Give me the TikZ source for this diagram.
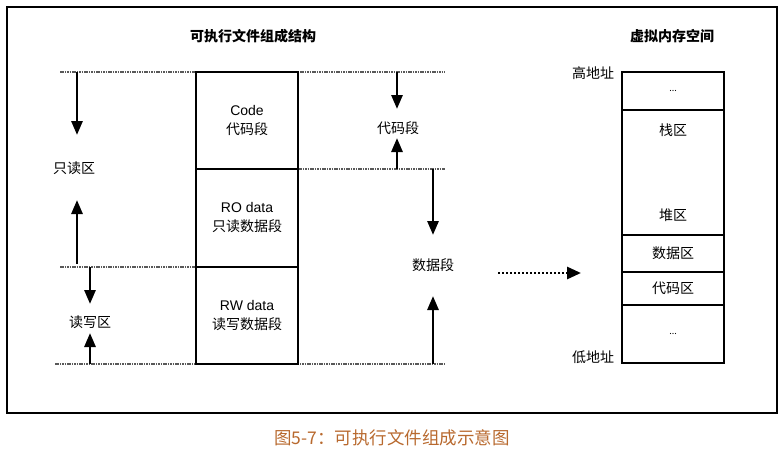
\documentclass[tikz,border=0pt]{standalone}
\usepackage{fontspec}
\setmainfont{Noto Sans CJK SC}
\newfontfamily\latinfont{Liberation Sans}
\usetikzlibrary{arrows.meta}
\definecolor{captioncol}{HTML}{B8692E}
\tikzset{
  cell/.style={draw, line width=1.6pt, minimum width=102pt, inner sep=0pt, align=center, font=\fontsize{14}{19}\selectfont},
  lbl/.style={inner sep=0pt, font=\fontsize{14}{16}\selectfont},
  ttl/.style={inner sep=0pt, font=\fontsize{14}{16}\selectfont\bfseries},
  guide/.style={line width=1.6pt, gray!70!black, dash pattern=on 1.6pt off 0.8pt},
  arr/.style={line width=2.8pt, -{Triangle[length=14pt,width=11pt]}},
}
\begin{document}
\begin{tikzpicture}[x=1pt,y=-1pt]
\useasboundingbox (0,0) rectangle (784,452);
% outer frame
\draw[line width=2.8pt] (7,7) rectangle (777,413);
% titles
\node[ttl] (t1) at (253,36) {可执行文件组成结构};
\node[ttl] (t2) at (672,36) {虚拟内存空间};
% guide lines
\coordinate (g1a) at (60,72);  \coordinate (g1b) at (445,72);
\coordinate (g2a) at (298,169); \coordinate (g2b) at (445,169);
\coordinate (g3a) at (60,267); \coordinate (g3b) at (196,267);
\coordinate (g4a) at (55,364); \coordinate (g4b) at (445,364);
\draw[guide] (g1a) -- (g1b);
\draw[guide] (g2a) -- (g2b);
\draw[guide] (g3a) -- (g3b);
\draw[guide] (g4a) -- (g4b);
% file box
\node[cell, minimum height=97pt] (code) at (247,120.5) {{\latinfont Code}\\代码段};
\node[cell, minimum height=98pt] (ro) at (247,218) {{\latinfont RO data}\\只读数据段};
\node[cell, minimum height=97pt] (rw) at (247,315.5) {{\latinfont RW data}\\读写数据段};
% left labels and arrows
\node[lbl] (ro lbl) at (74,168) {只读区};
\node[lbl] (rw lbl) at (90,322) {读写区};
\coordinate (a1s) at (77,72);  \coordinate (a1e) at (77,135);
\coordinate (a2s) at (77,264); \coordinate (a2e) at (77,200);
\coordinate (a3s) at (90,267); \coordinate (a3e) at (90,304);
\coordinate (a4s) at (90,364); \coordinate (a4e) at (90,333);
\draw[arr] (a1s) -- (a1e);
\draw[arr] (a2s) -- (a2e);
\draw[arr] (a3s) -- (a3e);
\draw[arr] (a4s) -- (a4e);
% right labels and arrows
\node[lbl] (code lbl) at (398,128) {代码段};
\node[lbl] (data lbl) at (433,265) {数据段};
\coordinate (b1s) at (397,72);  \coordinate (b1e) at (397,109);
\coordinate (b2s) at (397,169); \coordinate (b2e) at (397,138);
\coordinate (b3s) at (433,169); \coordinate (b3e) at (433,235);
\coordinate (b4s) at (433,364); \coordinate (b4e) at (433,296);
\draw[arr] (b1s) -- (b1e);
\draw[arr] (b2s) -- (b2e);
\draw[arr] (b3s) -- (b3e);
\draw[arr] (b4s) -- (b4e);
% mapping arrow
\coordinate (m1) at (498,273); \coordinate (m2) at (581,273);
\draw[line width=2.8pt, dash pattern=on 2pt off 2pt, -{Triangle[length=14pt,width=12pt]}] (m1) -- (m2);
% virtual memory box
\node[cell, minimum height=38pt] (vtop) at (673,91) {\fontsize{9}{10}\selectfont ...};
\node[cell, minimum height=125pt] (stack) at (673,172.5) {};
\node[lbl] (stack lbl) at (673,130) {栈区};
\node[lbl] (heap lbl) at (673,215) {堆区};
\node[cell, minimum height=37pt] (data) at (673,253.5) {数据区};
\node[cell, minimum height=33pt] (text) at (673,288.5) {代码区};
\node[cell, minimum height=58pt] (vbot) at (673,334) {\fontsize{9}{10}\selectfont ...};
\node[lbl] (high) at (593,73) {高地址};
\node[lbl] (low) at (593,357) {低地址};
% caption
\node[inner sep=0pt, text=captioncol, font=\fontsize{17.5}{20}\selectfont] (cap) at (392,438) {图5-7：可执行文件组成示意图};
\end{tikzpicture}
\end{document}
